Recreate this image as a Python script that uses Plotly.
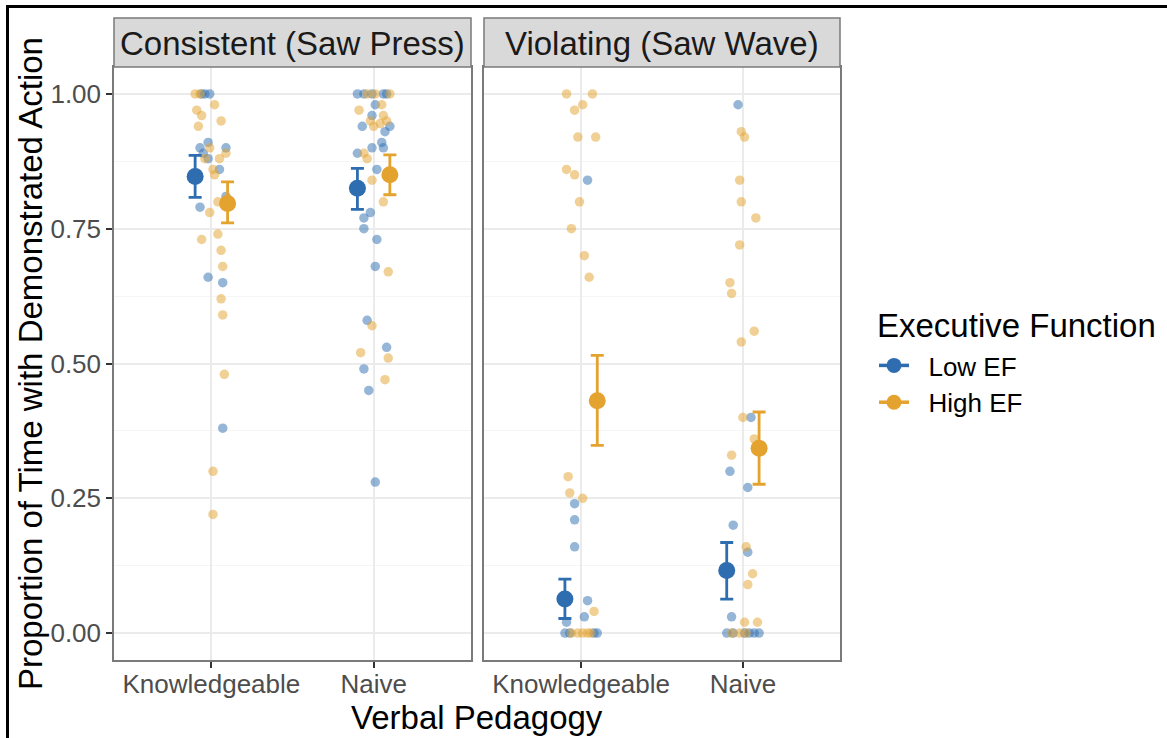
import plotly.graph_objects as go

W, H = 1167, 738

pedagogy = ["Knowledgeable", "Naive"]
conditions = ["Consistent (Saw Press)", "Violating (Saw Wave)"]
ef_levels = ["Low EF", "High EF"]
y_ticks = [0.0, 0.25, 0.5, 0.75, 1.0]
y_tick_text = ["0.00", "0.25", "0.50", "0.75", "1.00"]

# ---- individual observations (value, jitter in category units) ----
cons_know_low = [1.00, 1.00, 1.00, 0.91, 0.90, 0.90, 0.89, 0.88, 0.86, 0.81, 0.79, 0.66, 0.65, 0.38]
cons_know_low_jit = [-0.06, -0.04, -0.01, -0.02, -0.07, 0.09, -0.05, -0.02, 0.05, 0.09, -0.07, -0.02, 0.07, 0.07]
cons_know_high = [1.00, 1.00, 0.98, 0.97, 0.96, 0.95, 0.94, 0.90, 0.89, 0.88, 0.88, 0.86, 0.85, 0.80,
                  0.78, 0.74, 0.73, 0.71, 0.68, 0.62, 0.59, 0.48, 0.30, 0.22]
cons_know_high_jit = [-0.10, -0.07, 0.02, -0.09, -0.06, 0.06, -0.08, -0.01, 0.09, -0.04, 0.05, 0.01, 0.02, 0.04,
                      -0.01, 0.04, -0.06, 0.06, 0.07, 0.06, 0.07, 0.08, 0.01, 0.01]

cons_naive_low = [1.00, 1.00, 1.00, 1.00, 1.00, 0.98, 0.96, 0.94, 0.94, 0.93, 0.91, 0.90, 0.90, 0.89,
                  0.86, 0.78, 0.77, 0.75, 0.73, 0.68, 0.58, 0.53, 0.49, 0.45, 0.28]
cons_naive_low_jit = [-0.10, -0.06, -0.01, 0.06, 0.08, 0.01, -0.01, -0.07, 0.10, 0.07, 0.05, 0.06, -0.01, -0.10,
                      0.02, -0.02, -0.06, -0.06, 0.02, 0.01, -0.04, 0.08, -0.06, -0.03, 0.01]
cons_naive_high = [1.00, 1.00, 1.00, 0.98, 0.97, 0.96, 0.95, 0.95, 0.945, 0.94, 0.89, 0.88, 0.84, 0.80,
                   0.67, 0.57, 0.52, 0.51, 0.47]
cons_naive_high_jit = [-0.04, 0.01, 0.10, 0.05, -0.09, 0.06, -0.02, 0.08, 0.04, 0.00, -0.06, -0.04, -0.01, 0.06,
                       0.09, -0.01, -0.08, 0.09, 0.07]

viol_know_low = [0.84, 0.24, 0.21, 0.16, 0.06, 0.03, 0.02, 0.00, 0.00, 0.00, 0.00]
viol_know_low_jit = [0.04, -0.04, -0.04, -0.04, 0.04, 0.02, -0.09, -0.10, -0.07, 0.08, 0.10]
viol_know_high = [1.00, 1.00, 0.98, 0.97, 0.92, 0.92, 0.86, 0.85, 0.80, 0.75, 0.70, 0.66, 0.29, 0.26, 0.25,
                  0.04, 0.00, 0.00, 0.00, 0.00, 0.00]
viol_know_high_jit = [-0.09, 0.07, 0.01, -0.04, -0.02, 0.09, -0.09, -0.04, -0.01, -0.06, 0.02, 0.05, -0.08, -0.07, 0.01,
                      0.08, -0.06, -0.02, 0.01, 0.04, 0.06]

viol_naive_low = [0.98, 0.40, 0.30, 0.27, 0.20, 0.15, 0.03, 0.00, 0.00, 0.00, 0.00, 0.00, 0.00]
viol_naive_low_jit = [-0.03, 0.05, -0.08, 0.03, -0.06, 0.03, -0.07, -0.10, -0.06, 0.01, 0.04, 0.07, 0.10]
viol_naive_high = [0.93, 0.92, 0.84, 0.80, 0.77, 0.72, 0.65, 0.63, 0.56, 0.54, 0.40, 0.36, 0.33, 0.16, 0.11,
                   0.09, 0.02, 0.02, 0.00, 0.00, 0.00]
viol_naive_high_jit = [-0.01, 0.01, -0.02, -0.01, 0.08, -0.02, -0.08, -0.07, 0.07, -0.01, 0.00, 0.07, -0.07, 0.02, 0.06,
                       0.03, 0.01, 0.09, -0.07, -0.02, 0.02]

# ---- group means and CI (Knowledgeable, Naive) ----
cons_low_mean = [0.847, 0.825]
cons_low_lo = [0.808, 0.786]
cons_low_hi = [0.886, 0.862]
cons_high_mean = [0.797, 0.850]
cons_high_lo = [0.761, 0.813]
cons_high_hi = [0.837, 0.887]
viol_low_mean = [0.063, 0.116]
viol_low_lo = [0.027, 0.063]
viol_low_hi = [0.100, 0.168]
viol_high_mean = [0.431, 0.343]
viol_high_lo = [0.348, 0.276]
viol_high_hi = [0.515, 0.410]

# ---- styling ----
FONT = "Liberation Sans, Arial, Helvetica, sans-serif"
COL = {"Low EF": "#2D6DB0", "High EF": "#E4A22E"}
DODGE = {"Low EF": -0.1, "High EF": 0.1}

panels = [
    {"axis": ("x", "y"), "points": {"Low EF": [(cons_know_low, cons_know_low_jit), (cons_naive_low, cons_naive_low_jit)],
                                     "High EF": [(cons_know_high, cons_know_high_jit), (cons_naive_high, cons_naive_high_jit)]},
     "means": {"Low EF": (cons_low_mean, cons_low_lo, cons_low_hi),
               "High EF": (cons_high_mean, cons_high_lo, cons_high_hi)}},
    {"axis": ("x2", "y2"), "points": {"Low EF": [(viol_know_low, viol_know_low_jit), (viol_naive_low, viol_naive_low_jit)],
                                       "High EF": [(viol_know_high, viol_know_high_jit), (viol_naive_high, viol_naive_high_jit)]},
     "means": {"Low EF": (viol_low_mean, viol_low_lo, viol_low_hi),
               "High EF": (viol_high_mean, viol_high_lo, viol_high_hi)}},
]

fig = go.Figure()

for p in panels:
    xa, ya = p["axis"]
    for ef in ef_levels:
        xs, ys = [], []
        for i, (vals, jit) in enumerate(p["points"][ef]):
            xs += [i + 1 + j for j in jit]
            ys += vals
        fig.add_trace(go.Scatter(x=xs, y=ys, xaxis=xa, yaxis=ya, mode="markers",
                                 marker=dict(size=9.5, color=COL[ef], opacity=0.5, line=dict(width=0)),
                                 showlegend=False, hoverinfo="skip"))
for p in panels:
    xa, ya = p["axis"]
    for ef in ef_levels:
        m, lo, hi = p["means"][ef]
        fig.add_trace(go.Scatter(
            x=[i + 1 + DODGE[ef] for i in range(len(pedagogy))], y=m, xaxis=xa, yaxis=ya,
            mode="markers", marker=dict(size=17, color=COL[ef]),
            error_y=dict(type="data", symmetric=False,
                         array=[h - v for h, v in zip(hi, m)],
                         arrayminus=[v - l for v, l in zip(m, lo)],
                         color=COL[ef], thickness=2.8, width=6.5),
            showlegend=False, hoverinfo="skip"))

for ef in ef_levels:
    fig.add_trace(go.Scatter(x=[None], y=[None], mode="lines+markers", name="\u00a0\u00a0" + ef,
                             line=dict(color=COL[ef], width=3.5), marker=dict(size=15, color=COL[ef]),
                             xaxis="x", yaxis="y"))

x_dom = [[114 / W, 471 / W], [484 / W, 840 / W]]
y_dom = [1 - 660 / H, 1 - 67 / H]

minor_y = [0.125, 0.375, 0.625, 0.875]
common_x = dict(range=[0.4, 2.6], tickvals=[1, 2], ticktext=pedagogy, showgrid=True,
                gridcolor="#EBEBEB", gridwidth=1.5, zeroline=False, showline=True, mirror=True,
                linecolor="#7A7A7A", linewidth=1.5, ticks="outside", ticklen=6, tickwidth=1.5,
                tickcolor="#333333", ticklabelstandoff=-6,
                tickfont=dict(family=FONT, size=26, color="#4D4D4D"))
common_y = dict(range=[-0.05, 1.05], tickvals=y_ticks, showgrid=True, gridcolor="#EBEBEB", gridwidth=1.5,
                zeroline=False, showline=True, mirror=True, linecolor="#7A7A7A", linewidth=1.5,
                domain=y_dom, minor=dict(tickvals=minor_y, showgrid=True, gridcolor="#F5F5F5", gridwidth=1))

fig.update_layout(
    width=W, height=H, margin=dict(l=0, r=0, t=0, b=0),
    paper_bgcolor="white", plot_bgcolor="white",
    font=dict(family=FONT, color="black"),
    xaxis=dict(domain=x_dom[0], anchor="y", **common_x),
    xaxis2=dict(domain=x_dom[1], anchor="y2", **common_x),
    yaxis=dict(anchor="x", ticktext=y_tick_text, ticks="outside", ticklen=6, tickwidth=1.5,
               tickcolor="#333333", tickfont=dict(family=FONT, size=26, color="#4D4D4D"), **common_y),
    yaxis2=dict(anchor="x2", showticklabels=False, ticks="", **common_y),
    legend=dict(x=874 / W, y=1 - 342 / H, xanchor="left", yanchor="top",
                font=dict(family=FONT, size=26, color="black"), bgcolor="rgba(0,0,0,0)",
                tracegroupgap=0, itemwidth=30),
    showlegend=True,
)

shapes = []
annotations = []
for k, cond in enumerate(conditions):
    shapes.append(dict(type="rect", xref="paper", yref="paper", x0=x_dom[k][0], x1=x_dom[k][1],
                       y0=1 - 67 / H, y1=1 - 18 / H, fillcolor="#D9D9D9",
                       line=dict(color="#7A7A7A", width=1.5), layer="above"))
    annotations.append(dict(text=cond, xref="paper", yref="paper", x=(x_dom[k][0] + x_dom[k][1]) / 2,
                            y=1 - 43 / H, xanchor="center", yanchor="middle", showarrow=False,
                            font=dict(family=FONT, size=33, color="#1A1A1A")))

annotations.append(dict(text="Executive Function", xref="paper", yref="paper", x=875 / W,
                        y=1 - 325 / H, xanchor="left", yanchor="middle", showarrow=False,
                        font=dict(family=FONT, size=33, color="black")))
annotations.append(dict(text="Verbal Pedagogy", xref="paper", yref="paper", x=(114 + 840) / 2 / W,
                        y=1 - 717 / H, xanchor="center", yanchor="middle", showarrow=False,
                        font=dict(family=FONT, size=33, color="black")))
annotations.append(dict(text="Proportion of Time with Demonstrated Action", xref="paper", yref="paper",
                        x=30 / W, y=1 - 364 / H, xanchor="center", yanchor="middle", showarrow=False,
                        textangle=-90, font=dict(family=FONT, size=33, color="black")))

# outer frame of the image (top and left black rules)
shapes.append(dict(type="line", xref="paper", yref="paper", x0=6 / W, x1=1, y0=1 - 6.5 / H, y1=1 - 6.5 / H,
                   line=dict(color="black", width=3)))
shapes.append(dict(type="line", xref="paper", yref="paper", x0=7.5 / W, x1=7.5 / W, y0=0, y1=1 - 5 / H,
                   line=dict(color="black", width=3)))

fig.update_layout(shapes=shapes, annotations=annotations)
fig.write_html("out.html")
